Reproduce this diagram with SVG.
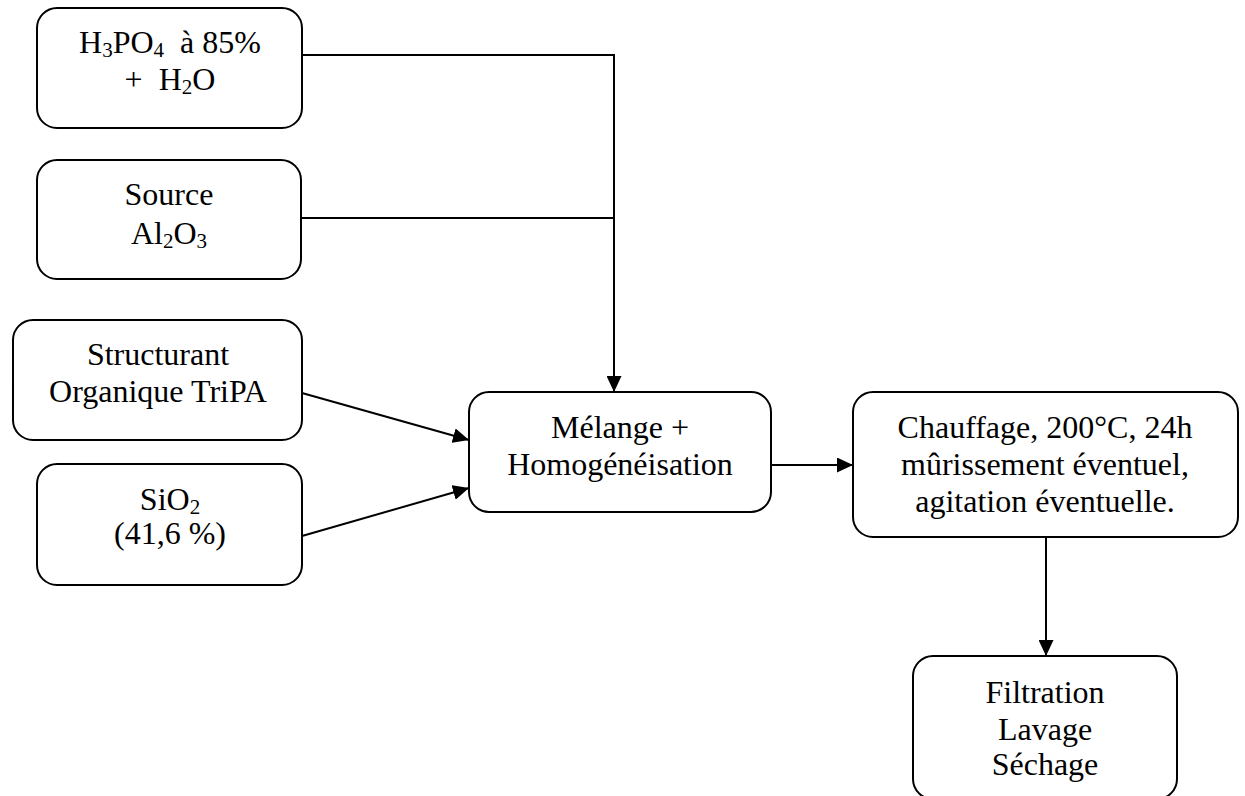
<svg xmlns="http://www.w3.org/2000/svg" width="1245" height="796" viewBox="0 0 1245 796">
  <defs>
    <marker id="arrow" markerUnits="userSpaceOnUse" markerWidth="17" markerHeight="15" refX="16" refY="7.5" orient="auto">
      <path d="M0,0 L16,7.5 L0,15 Z" fill="#000"/>
    </marker>
    <style>
      .box { fill: #fff; stroke: #000; stroke-width: 2; }
      .lbl { font-family: "Liberation Serif", "Times New Roman", serif; font-size: 32px; fill: #000; text-anchor: middle; white-space: pre; }
      .sub { font-size: 21px; }
      .conn { fill: none; stroke: #000; stroke-width: 2; }
    </style>
  </defs>
  <rect width="1245" height="796" fill="#fff"/>

  <!-- connectors -->
  <g id="connectors">
    <path class="conn" d="M302,55 H614 V392" marker-end="url(#arrow)"/>
    <path class="conn" d="M301,218 H614"/>
    <path class="conn" d="M302,393 L469,440" marker-end="url(#arrow)"/>
    <path class="conn" d="M302,536 L469,488" marker-end="url(#arrow)"/>
    <path class="conn" d="M771,465 H853" marker-end="url(#arrow)"/>
    <path class="conn" d="M1046,537 V656" marker-end="url(#arrow)"/>
  </g>

  <g id="acide">
    <rect class="box" x="37" y="8" width="265" height="120" rx="20"/>
    <text class="lbl" x="170" y="53">H<tspan class="sub" dy="4">3</tspan><tspan dy="-4">PO</tspan><tspan class="sub" dy="4">4</tspan><tspan dy="-4">  à 85%</tspan></text>
    <text class="lbl" x="170" y="90">+  H<tspan class="sub" dy="4">2</tspan><tspan dy="-4">O</tspan></text>
  </g>

  <g id="alumine">
    <rect class="box" x="37" y="160" width="264" height="119" rx="20"/>
    <text class="lbl" x="169" y="205">Source</text>
    <text class="lbl" x="169" y="244">Al<tspan class="sub" dy="4">2</tspan><tspan dy="-4">O</tspan><tspan class="sub" dy="4">3</tspan></text>
  </g>

  <g id="structurant">
    <rect class="box" x="13" y="320" width="289" height="120" rx="20"/>
    <text class="lbl" x="158" y="365">Structurant</text>
    <text class="lbl" x="158" y="402">Organique TriPA</text>
  </g>

  <g id="silice">
    <rect class="box" x="37" y="464" width="265" height="121" rx="20"/>
    <text class="lbl" x="170" y="510">SiO<tspan class="sub" dy="4">2</tspan></text>
    <text class="lbl" x="170" y="544">(41,6 %)</text>
  </g>

  <g id="melange">
    <rect class="box" x="469" y="392" width="302" height="120" rx="20"/>
    <text class="lbl" x="620" y="438">Mélange +</text>
    <text class="lbl" x="620" y="475">Homogénéisation</text>
  </g>

  <g id="chauffage">
    <rect class="box" x="853" y="392" width="385" height="145" rx="20"/>
    <text class="lbl" x="1045" y="438">Chauffage, 200°C, 24h</text>
    <text class="lbl" x="1045" y="475">mûrissement éventuel,</text>
    <text class="lbl" x="1045" y="512">agitation éventuelle.</text>
  </g>

  <g id="filtration">
    <rect class="box" x="913" y="656" width="264" height="143" rx="20"/>
    <text class="lbl" x="1045" y="703">Filtration</text>
    <text class="lbl" x="1045" y="740">Lavage</text>
    <text class="lbl" x="1045" y="775">Séchage</text>
  </g>
</svg>
